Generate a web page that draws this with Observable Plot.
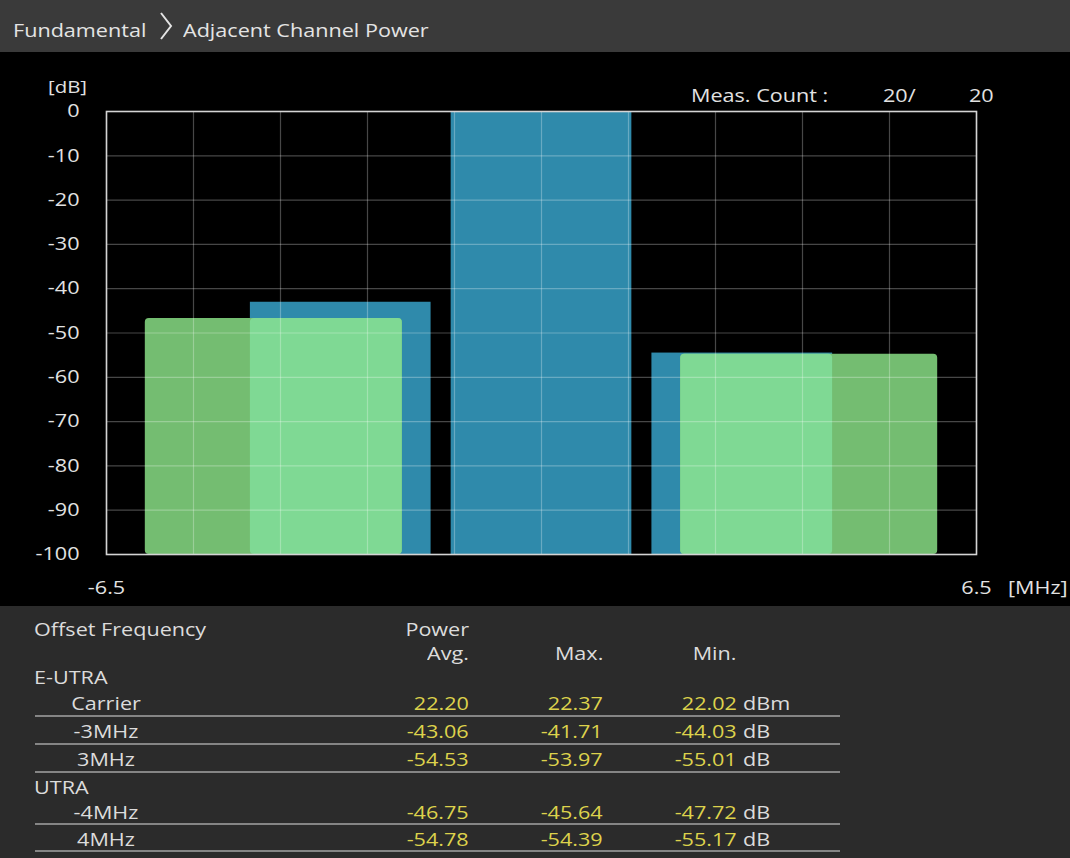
<!DOCTYPE html>
<html>
<head>
<meta charset="utf-8">
<script src="https://cdn.jsdelivr.net/npm/d3@7"></script>
<script src="https://cdn.jsdelivr.net/npm/@observablehq/plot@0.6"></script>
<style>
  html, body { margin: 0; padding: 0; background: #000; }
  #page { position: relative; width: 1070px; height: 858px; overflow: hidden; background: #000; font-family: "Open Sans", "Noto Sans", sans-serif; }
  #header { position: absolute; left: 0; top: 0; width: 1070px; height: 52px; background: #3a3a3a; }
  #table { position: absolute; left: 0; top: 606px; width: 1070px; height: 252px; background: #2b2b2b; }
  #chart { position: absolute; left: 0; top: 52px; }
  .t { position: absolute; display: inline-block; white-space: nowrap; font-size: 18px; overflow: visible; }
  .rule { position: absolute; height: 2px; background: #858585; }
</style>
</head>
<body>
<div id="page">
  <div id="header"></div>
  <div id="table"></div>
  <div id="chart"></div>
</div>
<script>
// ---------- data ----------
const titleParts = ["Fundamental", "Adjacent Channel Power"];
const measCountLabel = "Meas. Count :";
const measCountDone = "20/";
const measCountTotal = "20";
const yUnit = "[dB]";
const xUnit = "[MHz]";

const yTicks = [0, -10, -20, -30, -40, -50, -60, -70, -80, -90, -100];
const xTickLabels = [-6.5, 6.5];
const xGrid = [-6.5, -5.2, -3.9, -2.6, -1.3, 0, 1.3, 2.6, 3.9, 5.2, 6.5];

// E-UTRA channels (3 MHz LTE, 2.7 MHz occupied bandwidth)
const eutraLabels = ["Carrier", "-3MHz", "3MHz"];
const eutraOffsets = [0, -3, 3];
const eutraBandwidth = 2.7;
const eutraAvg = [22.20, -43.06, -54.53];
const eutraMax = [22.37, -41.71, -53.97];
const eutraMin = [22.02, -44.03, -55.01];
const eutraUnits = ["dBm", "dB", "dB"];
const eutraBarValues = [0, -43.06, -54.53]; // carrier drawn as 0 dB reference

// UTRA channels (3.84 MHz bandwidth)
const utraLabels = ["-4MHz", "4MHz"];
const utraOffsets = [-4, 4];
const utraBandwidth = 3.84;
const utraAvg = [-46.75, -54.78];
const utraMax = [-45.64, -54.39];
const utraMin = [-47.72, -55.17];
const utraUnits = ["dB", "dB"];

const tableHeaders = { offset: "Offset Frequency", power: "Power", avg: "Avg.", max: "Max.", min: "Min." };
const groupNames = ["E-UTRA", "UTRA"];

// ---------- build bar tables ----------
const yBase = -100;
const eutraBars = eutraOffsets.map((o, i) => ({
  x1: o - eutraBandwidth / 2, x2: o + eutraBandwidth / 2, value: eutraBarValues[i], label: eutraLabels[i]
}));
const utraBars = utraOffsets.map((o, i) => ({
  x1: o - utraBandwidth / 2, x2: o + utraBandwidth / 2, value: utraAvg[i], label: utraLabels[i]
}));
const overlapBars = [];
for (const u of utraBars) {
  for (const e of eutraBars) {
    if (e.value === 0) continue;
    const lo = Math.max(u.x1, e.x1), hi = Math.min(u.x2, e.x2);
    if (lo < hi) overlapBars.push({ x1: lo, x2: hi, value: u.value });
  }
}

const fmt = d => String(d);
const gridStroke = "#ffffff";

const chart = Plot.plot({
  width: 1070,
  height: 553,
  marginTop: 59,
  marginBottom: 51,
  marginLeft: 106,
  marginRight: 94,
  style: { background: "transparent", color: "#e2e2e2", fontFamily: "Open Sans, Noto Sans, sans-serif", fontSize: "18px" },
  x: { domain: [-6.5, 6.5] },
  y: { domain: [-100, 0] },
  marks: [
    Plot.rect(eutraBars, { x1: "x1", x2: "x2", y1: () => yBase, y2: "value", fill: "#2f8aab" }),
    Plot.rect(utraBars, { x1: "x1", x2: "x2", y1: () => yBase, y2: "value", fill: "#74bd71", rx: 4 }),
    Plot.rect(overlapBars, { x1: "x1", x2: "x2", y1: () => yBase, y2: "value", fill: "#7fd994", rx: 4 }),
    Plot.gridX(xGrid, { stroke: gridStroke, strokeOpacity: 0.28, strokeWidth: 1.2 }),
    Plot.gridY(yTicks, { stroke: gridStroke, strokeOpacity: 0.28, strokeWidth: 1.2 }),
    Plot.frame({ stroke: "#d4d4d4", strokeWidth: 1.6 }),
    Plot.axisY(yTicks, { tickSize: 0, tickPadding: 27, tickFormat: fmt, fontSize: 18, fill: "#e2e2e2", label: null }),
    Plot.axisX(xTickLabels, { tickSize: 0, tickPadding: 27, tickFormat: fmt, fontSize: 18, fill: "#e2e2e2", label: null })
  ]
});
document.getElementById("chart").appendChild(chart);

// widen glyphs to match the reference's wide UI face
const STRETCH = 1.2;
chart.querySelectorAll("text").forEach(t => {
  const w = t.getComputedTextLength();
  if (w > 0) {
    t.setAttribute("textLength", (w * STRETCH).toFixed(2));
    t.setAttribute("lengthAdjust", "spacingAndGlyphs");
  }
});

// ---------- HTML text helper ----------
const page = document.getElementById("page");
function addText(str, x, yc, { anchor = "start", color = "#e0e0e0", size = 18 } = {}) {
  const s = document.createElement("span");
  const L = Math.round(size * 0.8);
  s.className = "t";
  s.textContent = str;
  s.style.color = color;
  s.style.fontSize = size + "px";
  s.style.lineHeight = L + "px";
  s.style.height = L + "px";
  s.style.top = (yc - L / 2 - 0.5) + "px";
  if (anchor === "start") {
    s.style.left = x + "px";
    s.style.transformOrigin = "left center";
    s.style.transform = `scaleX(${STRETCH})`;
  } else if (anchor === "end") {
    s.style.right = (1070 - x) + "px";
    s.style.transformOrigin = "right center";
    s.style.transform = `scaleX(${STRETCH})`;
  } else {
    s.style.left = x + "px";
    s.style.transformOrigin = "left center";
    s.style.transform = `scaleX(${STRETCH}) translateX(-50%)`;
  }
  page.appendChild(s);
  return s;
}
function addRule(x1, x2, y) {
  const d = document.createElement("div");
  d.className = "rule";
  d.style.left = x1 + "px";
  d.style.width = (x2 - x1) + "px";
  d.style.top = (y - 1) + "px";
  page.appendChild(d);
}

// header
addText(titleParts[0], 13, 30, { color: "#e4e4e4" });
const chev = document.createElementNS("http://www.w3.org/2000/svg", "svg");
chev.setAttribute("width", "16"); chev.setAttribute("height", "30");
chev.style.position = "absolute"; chev.style.left = "158px"; chev.style.top = "11px";
chev.innerHTML = '<polyline points="3,2 13,15 3,28" fill="none" stroke="#e4e4e4" stroke-width="2"/>';
page.appendChild(chev);
addText(titleParts[1], 183, 30, { color: "#e4e4e4" });

// chart annotations
addText(yUnit, 48, 87, { color: "#e2e2e2", size: 17 });
addText(xUnit, 1008, 587, { color: "#e2e2e2" });
addText(measCountLabel, 691, 95, { color: "#e2e2e2" });
addText(measCountDone, 883, 95, { color: "#e2e2e2" });
addText(measCountTotal, 969, 95, { color: "#e2e2e2" });

// ---------- table ----------
const lblColor = "#dcdcdc";
const valColor = "#ddd24c";
const colAvg = 469, colMax = 603, colMin = 737, colUnit = 743, colLabel = 106, colGroup = 34;
addText(tableHeaders.offset, colGroup, 629, { color: lblColor });
addText(tableHeaders.power, colAvg, 629, { anchor: "end", color: lblColor });
addText(tableHeaders.avg, colAvg, 653, { anchor: "end", color: lblColor });
addText(tableHeaders.max, colMax, 653, { anchor: "end", color: lblColor });
addText(tableHeaders.min, colMin, 653, { anchor: "end", color: lblColor });

function addRow(label, avg, max, min, unit, yc, ruleY) {
  addText(label, colLabel, yc, { anchor: "middle", color: lblColor });
  addText(avg.toFixed(2), colAvg, yc, { anchor: "end", color: valColor });
  addText(max.toFixed(2), colMax, yc, { anchor: "end", color: valColor });
  addText(min.toFixed(2), colMin, yc, { anchor: "end", color: valColor });
  addText(unit, colUnit, yc, { color: lblColor });
  addRule(35, 840, ruleY);
}
addText(groupNames[0], colGroup, 677, { color: lblColor });
const eutraRowY = [703, 731, 759];
eutraLabels.forEach((l, i) => addRow(l, eutraAvg[i], eutraMax[i], eutraMin[i], eutraUnits[i], eutraRowY[i], eutraRowY[i] + 13));
addText(groupNames[1], colGroup, 787, { color: lblColor });
const utraRowY = [812, 839];
utraLabels.forEach((l, i) => addRow(l, utraAvg[i], utraMax[i], utraMin[i], utraUnits[i], utraRowY[i], utraRowY[i] + 12));
</script>
</body>
</html>
